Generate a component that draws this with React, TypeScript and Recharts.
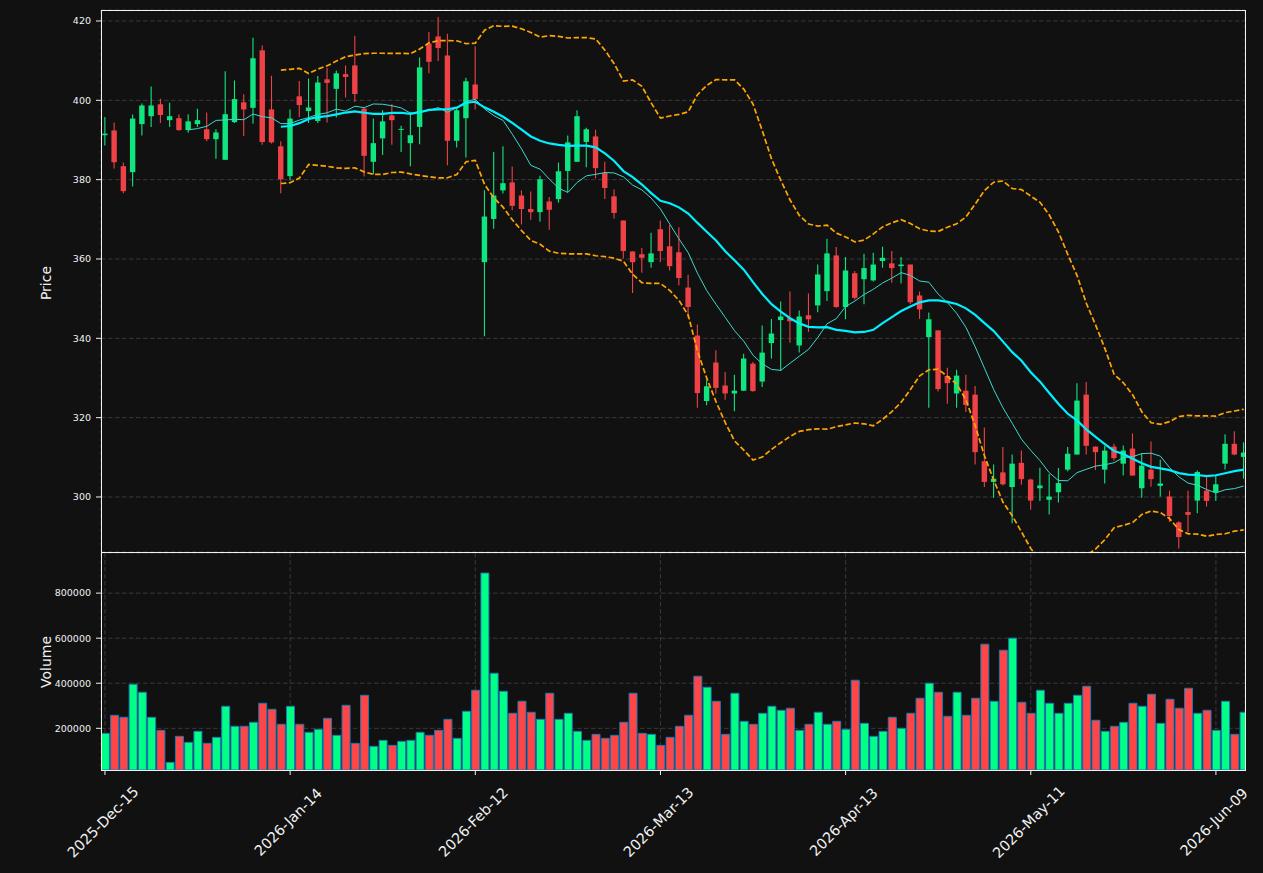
import { Bar, CartesianGrid, Cell, ComposedChart, Line, XAxis, YAxis } from "recharts"

const BG = "#111111"
const FG = "#f2f2f2"
const GRID = "#3a3a3a"
const CANDLE_UP = "#10e680"
const CANDLE_DOWN = "#ef4247"
const VOL_UP = "#00ff85"
const VOL_DOWN = "#ff4545"
const VOL_EDGE = "#1f77b4"
const FONT = "DejaVu Sans"

// daily bars, one per trading session
const opens = [
  391.2, 392.4, 383.4, 381.9, 394.0, 396.0, 399.0, 395.0, 395.5, 392.5, 394.0, 392.7, 390.2, 385.0, 394.5, 399.5,
  398.1, 412.6, 397.7, 388.4, 380.9, 401.0, 397.3, 394.8, 405.3, 402.9, 406.6, 408.8, 397.9, 384.5, 390.4, 396.2,
  392.6, 389.2, 393.3, 414.3, 416.1, 411.3, 389.8, 395.5, 404.0, 359.2, 370.1, 377.3, 379.3, 376.0, 372.6, 371.8,
  374.5, 375.1, 382.2, 384.5, 389.5, 390.9, 381.7, 375.8, 369.7, 361.9, 361.2, 359.2, 367.5, 363.2, 361.7, 352.8,
  340.7, 324.2, 333.9, 328.1, 326.1, 326.8, 333.6, 329.1, 338.8, 344.6, 345.1, 338.2, 345.8, 348.3, 351.9, 360.9,
  347.9, 356.4, 354.9, 354.6, 359.5, 358.9, 358.2, 358.6, 350.8, 340.3, 342.0, 330.5, 326.1, 326.8, 325.8, 309.0,
  303.8, 306.2, 302.5, 308.6, 304.4, 302.2, 299.3, 301.2, 306.9, 310.7, 325.8, 312.7, 306.9, 312.7, 308.4, 312.2,
  302.2, 306.9, 302.8, 300.1, 293.6, 296.2, 299.1, 301.6, 301.2, 308.4, 313.4, 310.1,
]
const highs = [
  395.8, 394.4, 384.3, 396.4, 399.2, 403.5, 400.4, 399.4, 396.4, 396.5, 397.9, 396.9, 392.7, 407.3, 405.0, 401.5,
  415.8, 413.8, 406.2, 389.7, 397.7, 404.9, 405.5, 406.1, 408.2, 407.5, 408.8, 416.3, 398.2, 395.4, 397.5, 399.0,
  393.6, 397.1, 410.8, 417.2, 421.0, 416.8, 398.3, 405.7, 413.6, 377.3, 387.0, 388.4, 383.3, 377.3, 377.0, 381.0,
  375.6, 384.3, 391.1, 397.5, 393.1, 392.6, 384.5, 377.5, 369.7, 361.9, 362.8, 366.6, 369.7, 368.5, 368.0, 356.0,
  343.5, 329.4, 337.0, 331.5, 330.8, 336.1, 334.0, 343.2, 344.9, 349.3, 351.8, 347.0, 351.3, 358.6, 365.1, 363.0,
  360.5, 357.0, 361.3, 361.6, 363.1, 362.0, 360.5, 358.6, 351.8, 346.5, 342.0, 332.6, 332.1, 330.8, 328.0, 317.5,
  308.2, 312.6, 310.7, 311.7, 304.6, 307.4, 305.8, 307.3, 312.6, 328.7, 329.0, 312.7, 312.9, 313.4, 313.0, 316.0,
  310.9, 314.0, 309.4, 301.6, 293.9, 301.6, 306.7, 305.0, 305.4, 315.8, 316.6, 313.8,
]
const lows = [
  388.6, 382.8, 376.6, 378.3, 391.1, 393.3, 394.3, 393.3, 392.3, 391.8, 393.3, 389.7, 385.3, 385.0, 394.3, 391.0,
  394.1, 388.8, 389.1, 376.6, 379.8, 395.8, 394.3, 394.3, 394.4, 395.7, 400.7, 399.6, 380.8, 381.3, 386.2, 388.8,
  387.0, 383.4, 388.9, 406.8, 409.9, 383.6, 388.1, 385.6, 397.7, 340.5, 367.6, 376.5, 372.3, 368.7, 369.9, 369.4,
  367.4, 374.2, 376.9, 384.5, 383.1, 380.3, 375.1, 370.2, 360.1, 351.4, 356.5, 357.8, 359.2, 357.1, 353.3, 345.2,
  322.5, 323.1, 326.1, 324.5, 321.6, 326.7, 326.5, 327.7, 334.9, 331.8, 338.9, 336.4, 341.6, 346.6, 349.4, 347.7,
  344.8, 349.8, 348.6, 354.3, 357.8, 354.0, 353.8, 348.6, 344.9, 322.5, 326.6, 323.5, 322.5, 321.4, 308.2, 302.5,
  299.8, 302.9, 293.4, 303.1, 296.8, 299.0, 295.6, 298.6, 306.5, 310.7, 310.7, 306.8, 303.4, 309.2, 305.4, 305.4,
  299.8, 302.6, 300.1, 293.7, 287.0, 291.2, 295.9, 297.6, 299.0, 306.9, 310.5, 304.6,
]
const closes = [
  391.6, 384.4, 377.1, 395.4, 398.7, 398.7, 396.3, 396.0, 392.5, 394.7, 395.0, 390.2, 391.9, 396.5, 400.3, 397.7,
  410.6, 389.5, 389.4, 380.1, 395.4, 398.8, 398.2, 404.5, 404.4, 406.8, 405.9, 401.6, 386.0, 389.2, 394.7, 395.0,
  392.8, 391.2, 408.3, 409.7, 413.2, 389.8, 397.5, 404.8, 400.3, 370.7, 376.0, 379.1, 373.4, 372.6, 371.8, 380.1,
  372.4, 382.1, 389.4, 396.0, 392.7, 382.9, 377.9, 371.6, 362.0, 359.2, 360.3, 361.4, 362.0, 358.2, 355.2, 347.9,
  326.2, 327.9, 327.5, 326.1, 326.8, 334.9, 326.7, 336.4, 341.2, 345.5, 344.3, 345.5, 344.8, 356.1, 361.4, 347.9,
  357.1, 350.2, 357.7, 358.6, 360.3, 357.7, 358.6, 349.1, 347.3, 344.8, 327.2, 328.7, 330.6, 323.2, 311.3, 303.8,
  304.6, 303.2, 308.4, 304.5, 299.1, 302.9, 300.1, 303.5, 310.9, 324.3, 312.9, 311.3, 311.7, 309.8, 311.7, 305.4,
  307.9, 304.5, 303.4, 295.2, 289.9, 295.5, 306.3, 299.0, 303.2, 313.4, 310.7, 311.2,
]
const volumes = [
  177800, 257800, 248900, 395500, 360000, 248900, 191100, 48900, 164400, 137800, 186700, 133300, 160000, 297800,
  208900, 208900, 226700, 311100, 284400, 217800, 297800, 217800, 182200, 195600, 244400, 168900, 302200, 133300,
  346700, 120000, 146700, 124400, 142200, 146700, 182200, 168900, 191100, 240000, 155600, 275600, 368900, 888900,
  444400, 364400, 266700, 320000, 271100, 240000, 355600, 240000, 266700, 186700, 146700, 173300, 155600, 168900,
  226700, 355600, 177800, 173300, 124400, 160000, 208900, 257800, 431100, 382200, 320000, 173300, 355600, 231100,
  217800, 266700, 297800, 280000, 288900, 191100, 217800, 271100, 217800, 231100, 195600, 413300, 222200, 164400,
  186700, 248900, 200000, 266700, 333300, 400000, 360000, 253300, 360000, 257800, 333300, 573300, 320000, 546700,
  600000, 315600, 266700, 368900, 311100, 266700, 311100, 346700, 386700, 235600, 186700, 208900, 226700, 311100,
  297800, 351100, 222200, 328900, 288900, 377800, 266700, 280000, 191100, 320000, 173300, 271100,
]

const tickIdx = [0, 20, 40, 60, 80, 100, 120]
const tickLabels = ["2025-Dec-15", "2026-Jan-14", "2026-Feb-12", "2026-Mar-13", "2026-Apr-13", "2026-May-11", "2026-Jun-09"]
const priceTicks = [300, 320, 340, 360, 380, 400, 420]
const volumeTicks = [200000, 400000, 600000, 800000]

const X_DOMAIN = [-0.43, 123.14]

function mean(arr: number[], end: number, n: number) {
  if (end < n - 1) return null
  let s = 0
  for (let k = end - n + 1; k <= end; k++) s += arr[k]
  return s / n
}

function std(arr: number[], end: number, n: number) {
  const m = mean(arr, end, n)
  if (m == null) return null
  let s = 0
  for (let k = end - n + 1; k <= end; k++) s += (arr[k] - m) ** 2
  return Math.sqrt(s / n)
}

const rows = closes.map((c, i) => {
  const mid = mean(closes, i, 20)
  const sd = std(closes, i, 20)
  return {
    i,
    open: opens[i],
    high: highs[i],
    low: lows[i],
    close: c,
    range: [lows[i], highs[i]],
    vol: volumes[i],
    up: c >= opens[i],
    ma10: mean(closes, i, 10),
    ma20: mid,
    upper: mid == null || sd == null ? null : mid + 2 * sd,
    lower: mid == null || sd == null ? null : mid - 2 * sd,
  }
})

function Candle(props: any) {
  const { x, y, width, height, payload } = props
  if (y == null || height == null) return null
  const top = Math.min(y, y + height)
  const h = Math.abs(height)
  const { open, close, high, low } = payload
  const k = high > low ? h / (high - low) : 0
  const yOf = (p: number) => top + (high - p) * k
  const color = close >= open ? CANDLE_UP : CANDLE_DOWN
  const cx = x + width / 2
  const bTop = yOf(Math.max(open, close))
  const bBot = yOf(Math.min(open, close))
  return (
    <g>
      <line x1={cx} x2={cx} y1={top} y2={top + h} stroke={color} strokeWidth={1.1} />
      <rect x={cx - 2.7} y={bTop} width={5.4} height={Math.max(bBot - bTop, 1)} fill={color} />
    </g>
  )
}

function DateTick({ x, y, payload }: any) {
  const label = tickLabels[tickIdx.indexOf(payload.value)]
  return (
    <text
      transform={`translate(${x - 2},${y + 45}) rotate(-45)`}
      textAnchor="middle"
      dominantBaseline="central"
      fill={FG}
      fontSize={14.4}
      fontFamily={FONT}
    >
      {label}
    </text>
  )
}

const tickStyle = { fill: FG, fontSize: 9.5, fontFamily: FONT }

export default function App() {
  return (
    <div style={{ position: "fixed", left: 0, top: 0, width: 1263, height: 873, background: BG, overflow: "hidden" }}>
      <div style={{ position: "absolute", left: 0, top: 0 }}>
        <ComposedChart width={1263} height={552} data={rows} margin={{ top: 10, right: 18, bottom: 0, left: 0 }}>
          <CartesianGrid stroke={GRID} strokeDasharray="4.5 2.5" />
          <XAxis
            dataKey="i"
            type="number"
            domain={X_DOMAIN}
            ticks={tickIdx}
            allowDataOverflow
            height={0}
            tick={false}
            axisLine={false}
            tickLine={false}
          />
          <YAxis
            type="number"
            domain={[286.13, 422.77]}
            ticks={priceTicks}
            allowDataOverflow
            width={101}
            axisLine={false}
            tickLine={{ stroke: FG }}
            tickSize={5}
            tickMargin={5}
            tick={tickStyle}
          />
          <Bar dataKey="range" shape={Candle} barSize={5} isAnimationActive={false} />
          <Line dataKey="upper" stroke="#ffa500" strokeWidth={1.7} strokeDasharray="5.5 2.5" dot={false} isAnimationActive={false} />
          <Line dataKey="lower" stroke="#ffa500" strokeWidth={1.7} strokeDasharray="5.5 2.5" dot={false} isAnimationActive={false} />
          <Line dataKey="ma10" stroke="#40d8cc" strokeWidth={1} dot={false} isAnimationActive={false} />
          <Line dataKey="ma20" stroke="#00f0ff" strokeWidth={2.2} dot={false} isAnimationActive={false} />
        </ComposedChart>
      </div>
      <div style={{ position: "absolute", left: 0, top: 552 }}>
        <ComposedChart width={1263} height={321} data={rows} margin={{ top: 1, right: 18, bottom: 0, left: 0 }}>
          <CartesianGrid stroke={GRID} strokeDasharray="4.5 2.5" />
          <XAxis
            dataKey="i"
            type="number"
            domain={X_DOMAIN}
            ticks={tickIdx}
            allowDataOverflow
            height={103}
            axisLine={false}
            tickLine={{ stroke: FG }}
            tickSize={5}
            tick={<DateTick />}
          />
          <YAxis
            type="number"
            domain={[15000, 978000]}
            ticks={volumeTicks}
            allowDataOverflow
            width={101}
            axisLine={false}
            tickLine={{ stroke: FG }}
            tickSize={5}
            tickMargin={5}
            tick={tickStyle}
          />
          <Bar dataKey="vol" barSize={8} stroke={VOL_EDGE} strokeWidth={1} isAnimationActive={false}>
            {rows.map((r) => (
              <Cell key={r.i} fill={r.up ? VOL_UP : VOL_DOWN} />
            ))}
          </Bar>
        </ComposedChart>
      </div>
      <div
        style={{
          position: "absolute",
          left: 101,
          top: 10,
          width: 1145,
          height: 543,
          border: `1px solid ${FG}`,
          boxSizing: "border-box",
          pointerEvents: "none",
        }}
      />
      <div
        style={{
          position: "absolute",
          left: 101,
          top: 552,
          width: 1145,
          height: 219,
          border: `1px solid ${FG}`,
          boxSizing: "border-box",
          pointerEvents: "none",
        }}
      />
      <svg width={1263} height={873} style={{ position: "absolute", left: 0, top: 0, pointerEvents: "none" }}>
        <text transform="translate(46,283) rotate(-90)" textAnchor="middle" dominantBaseline="central" fill={FG} fontSize={14} fontFamily={FONT}>
          Price
        </text>
        <text transform="translate(46,662) rotate(-90)" textAnchor="middle" dominantBaseline="central" fill={FG} fontSize={14} fontFamily={FONT}>
          Volume
        </text>
      </svg>
    </div>
  )
}
